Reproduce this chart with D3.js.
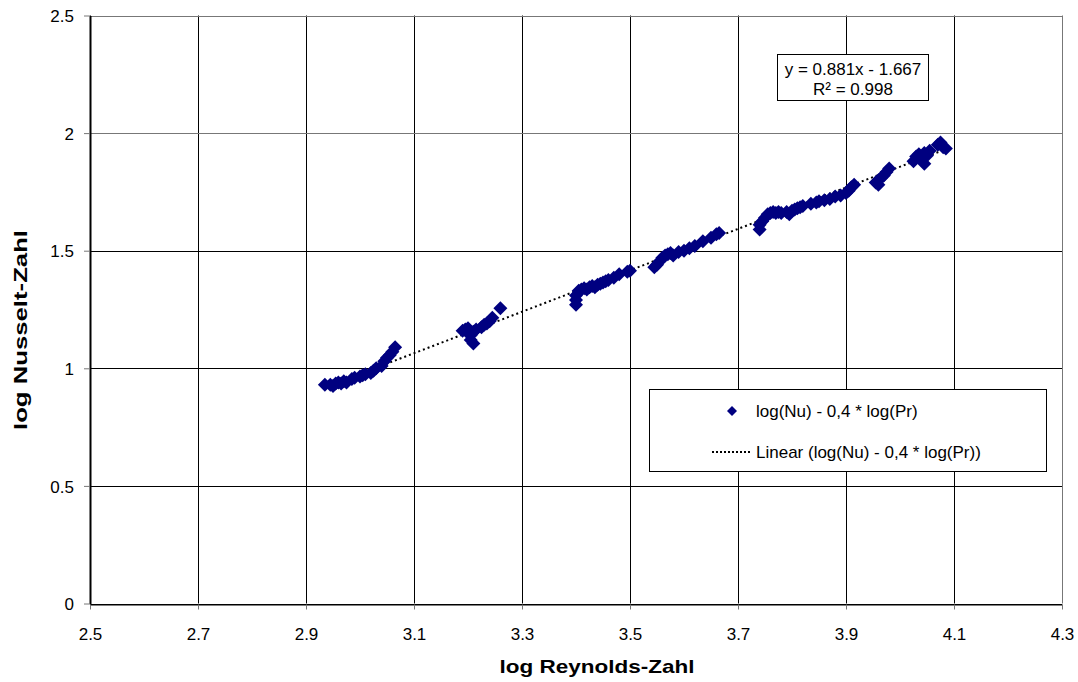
<!DOCTYPE html>
<html lang="de">
<head>
<meta charset="UTF-8">
<title>log Nusselt vs log Reynolds</title>
<style>
    body { margin: 0; background: #fff; }
    svg text { font-family: 'Liberation Sans', Arial, sans-serif; fill: #000; }
</style>
<script src="https://d3js.org/d3.v7.min.js"></script>
</head>
<body>
<svg id="chart" width="1078" height="682"></svg>
<script>
// measured points: log Re, log(Nu) - 0.4*log(Pr)
const logRe = [
    2.935, 2.945, 2.95, 2.955, 2.96, 2.965, 2.97, 2.975, 2.985, 2.99, 3.0, 3.005, 3.01, 3.02, 3.025, 3.03, 3.04, 3.045, 3.05, 3.055, 3.06, 3.065,
    3.19, 3.195, 3.2, 3.2, 3.205, 3.205, 3.21, 3.21, 3.215, 3.225, 3.23, 3.235, 3.24, 3.245, 3.26,
    3.40, 3.40, 3.40, 3.405, 3.41, 3.415, 3.42, 3.425, 3.43, 3.435, 3.44, 3.445, 3.45, 3.455, 3.46, 3.47, 3.48, 3.495, 3.5,
    3.545, 3.55, 3.555, 3.56, 3.565, 3.57, 3.575, 3.58, 3.59, 3.6, 3.61, 3.62, 3.635, 3.65, 3.66, 3.665,
    3.74, 3.74, 3.745, 3.75, 3.755, 3.76, 3.765, 3.77, 3.775, 3.78, 3.79, 3.795, 3.8, 3.805, 3.81, 3.815, 3.82, 3.835, 3.845, 3.85, 3.86, 3.87, 3.88, 3.89, 3.9, 3.905, 3.91, 3.915,
    3.955, 3.96, 3.96, 3.965, 3.97, 3.975, 3.98,
    4.025, 4.03, 4.035, 4.04, 4.045, 4.045, 4.05, 4.055, 4.07, 4.075, 4.08, 4.085
];
const logNu = [
    0.93, 0.93, 0.925, 0.935, 0.94, 0.935, 0.945, 0.94, 0.955, 0.96, 0.965, 0.97, 0.975, 0.98, 0.99, 1.0, 1.01, 1.03, 1.045, 1.055, 1.07, 1.09,
    1.16, 1.165, 1.17, 1.15, 1.14, 1.12, 1.105, 1.155, 1.165, 1.175, 1.185, 1.19, 1.2, 1.215, 1.255,
    1.27, 1.29, 1.31, 1.33, 1.335, 1.34, 1.335, 1.345, 1.35, 1.345, 1.355, 1.36, 1.365, 1.37, 1.375, 1.385, 1.4, 1.41, 1.415,
    1.43, 1.44, 1.455, 1.47, 1.48, 1.485, 1.49, 1.48, 1.495, 1.5, 1.51, 1.52, 1.54, 1.555, 1.57, 1.575,
    1.59, 1.61, 1.625, 1.64, 1.655, 1.66, 1.665, 1.66, 1.665, 1.66, 1.665, 1.655, 1.67, 1.675, 1.68, 1.685, 1.69, 1.7, 1.705, 1.71, 1.715, 1.72, 1.73, 1.735, 1.745, 1.755, 1.77, 1.78,
    1.79, 1.8, 1.78, 1.81, 1.82, 1.835, 1.85,
    1.88, 1.9, 1.91, 1.895, 1.87, 1.915, 1.905, 1.925, 1.95, 1.96, 1.94, 1.935
];

const slope = 0.881, intercept = -1.667;
const xTicks = [2.5, 2.7, 2.9, 3.1, 3.3, 3.5, 3.7, 3.9, 4.1, 4.3];
const yTicks = [0, 0.5, 1, 1.5, 2, 2.5];
const eqLines = ["y = 0.881x - 1.667", "R\u00b2 = 0.998"];
const legendLabels = ["log(Nu) - 0,4 * log(Pr)", "Linear (log(Nu) - 0,4 * log(Pr))"];

const svg = d3.select("#chart");
const x = d3.scaleLinear().domain([2.5, 4.3]).range([90, 1062]);
const y = d3.scaleLinear().domain([0, 2.5]).range([603.5, 15.5]);
const navy = "#000080";
const fs = 17;

// grid
svg.append("g").selectAll("line").data(xTicks).join("line")
    .attr("x1", d => Math.round(x(d)) + 0.5).attr("x2", d => Math.round(x(d)) + 0.5)
    .attr("y1", y(2.5)).attr("y2", y(0))
    .attr("stroke", d => d === 4.3 ? "#777" : "#000").attr("stroke-width", 1);
svg.append("g").selectAll("line").data(yTicks).join("line")
    .attr("x1", x(2.5)).attr("x2", x(4.3))
    .attr("y1", d => Math.round(y(d)) + 0.5).attr("y2", d => Math.round(y(d)) + 0.5)
    .attr("stroke", d => d >= 2 ? "#777" : "#000").attr("stroke-width", 1);

// axes
const xAxis = svg.append("g").attr("transform", `translate(0,${Math.round(y(0)) + 0.5})`)
    .call(d3.axisBottom(x).tickValues(xTicks).tickSize(5).tickSizeOuter(0).tickFormat(d3.format("")));
const yAxis = svg.append("g").attr("transform", `translate(${x(2.5)},0)`)
    .call(d3.axisLeft(y).tickValues(yTicks).tickSize(6).tickSizeOuter(0).tickFormat(d3.format("")));
[xAxis, yAxis].forEach(a => {
    a.select(".domain").attr("stroke", "#000");
    a.selectAll("text").attr("font-size", fs).attr("font-family", "'Liberation Sans', Arial, sans-serif");
});
yAxis.select(".domain").attr("stroke-width", 2);
xAxis.selectAll(".tick line").attr("stroke", "#777");
yAxis.selectAll(".tick line").attr("stroke", "#777");
xAxis.selectAll("text").attr("dy", null).attr("y", 35);
yAxis.selectAll("text").attr("x", -16).attr("dy", "0.36em");

// trend line
const xr = d3.extent(logRe);
svg.append("line")
    .attr("x1", x(xr[0])).attr("y1", y(slope * xr[0] + intercept))
    .attr("x2", x(xr[1])).attr("y2", y(slope * xr[1] + intercept))
    .attr("stroke", "#000").attr("stroke-width", 2).attr("stroke-dasharray", "2,3");

// points
const diamond = r => `M0,${-r}L${r},0L0,${r}L${-r},0Z`;
svg.append("g").selectAll("path").data(logRe).join("path")
    .attr("transform", (d, i) => `translate(${x(d)},${y(logNu[i])})`)
    .attr("d", diamond(7))
    .attr("fill", navy);

// equation box
const eq = svg.append("g");
eq.append("rect").attr("x", 777.5).attr("y", 54.5).attr("width", 151).attr("height", 46)
    .attr("fill", "#fff").attr("stroke", "#000");
eq.selectAll("text").data(eqLines).join("text")
    .attr("x", 853).attr("y", (d, i) => 75 + i * 20)
    .attr("text-anchor", "middle").attr("font-size", fs).text(d => d);

// legend
const lg = svg.append("g");
lg.append("rect").attr("x", 649.5).attr("y", 389.5).attr("width", 397).attr("height", 82)
    .attr("fill", "#fff").attr("stroke", "#000");
lg.append("path").attr("transform", "translate(732,411)").attr("d", diamond(5)).attr("fill", navy);
lg.append("line").attr("x1", 712).attr("x2", 752).attr("y1", 452).attr("y2", 452)
    .attr("stroke", "#000").attr("stroke-width", 2).attr("stroke-dasharray", "2,2");
lg.selectAll("text").data(legendLabels).join("text")
    .attr("x", 756).attr("y", (d, i) => 417 + i * 41)
    .attr("font-size", fs).text(d => d);

// axis titles
svg.append("text").attr("x", 597).attr("y", 673).attr("text-anchor", "middle")
    .attr("font-size", 19).attr("font-weight", "bold")
    .attr("textLength", 195).attr("lengthAdjust", "spacingAndGlyphs")
    .text("log Reynolds-Zahl");
svg.append("text").attr("transform", "translate(27,330) rotate(-90)").attr("text-anchor", "middle")
    .attr("font-size", 19).attr("font-weight", "bold")
    .attr("textLength", 200).attr("lengthAdjust", "spacingAndGlyphs")
    .text("log Nusselt-Zahl");
</script>
</body>
</html>
